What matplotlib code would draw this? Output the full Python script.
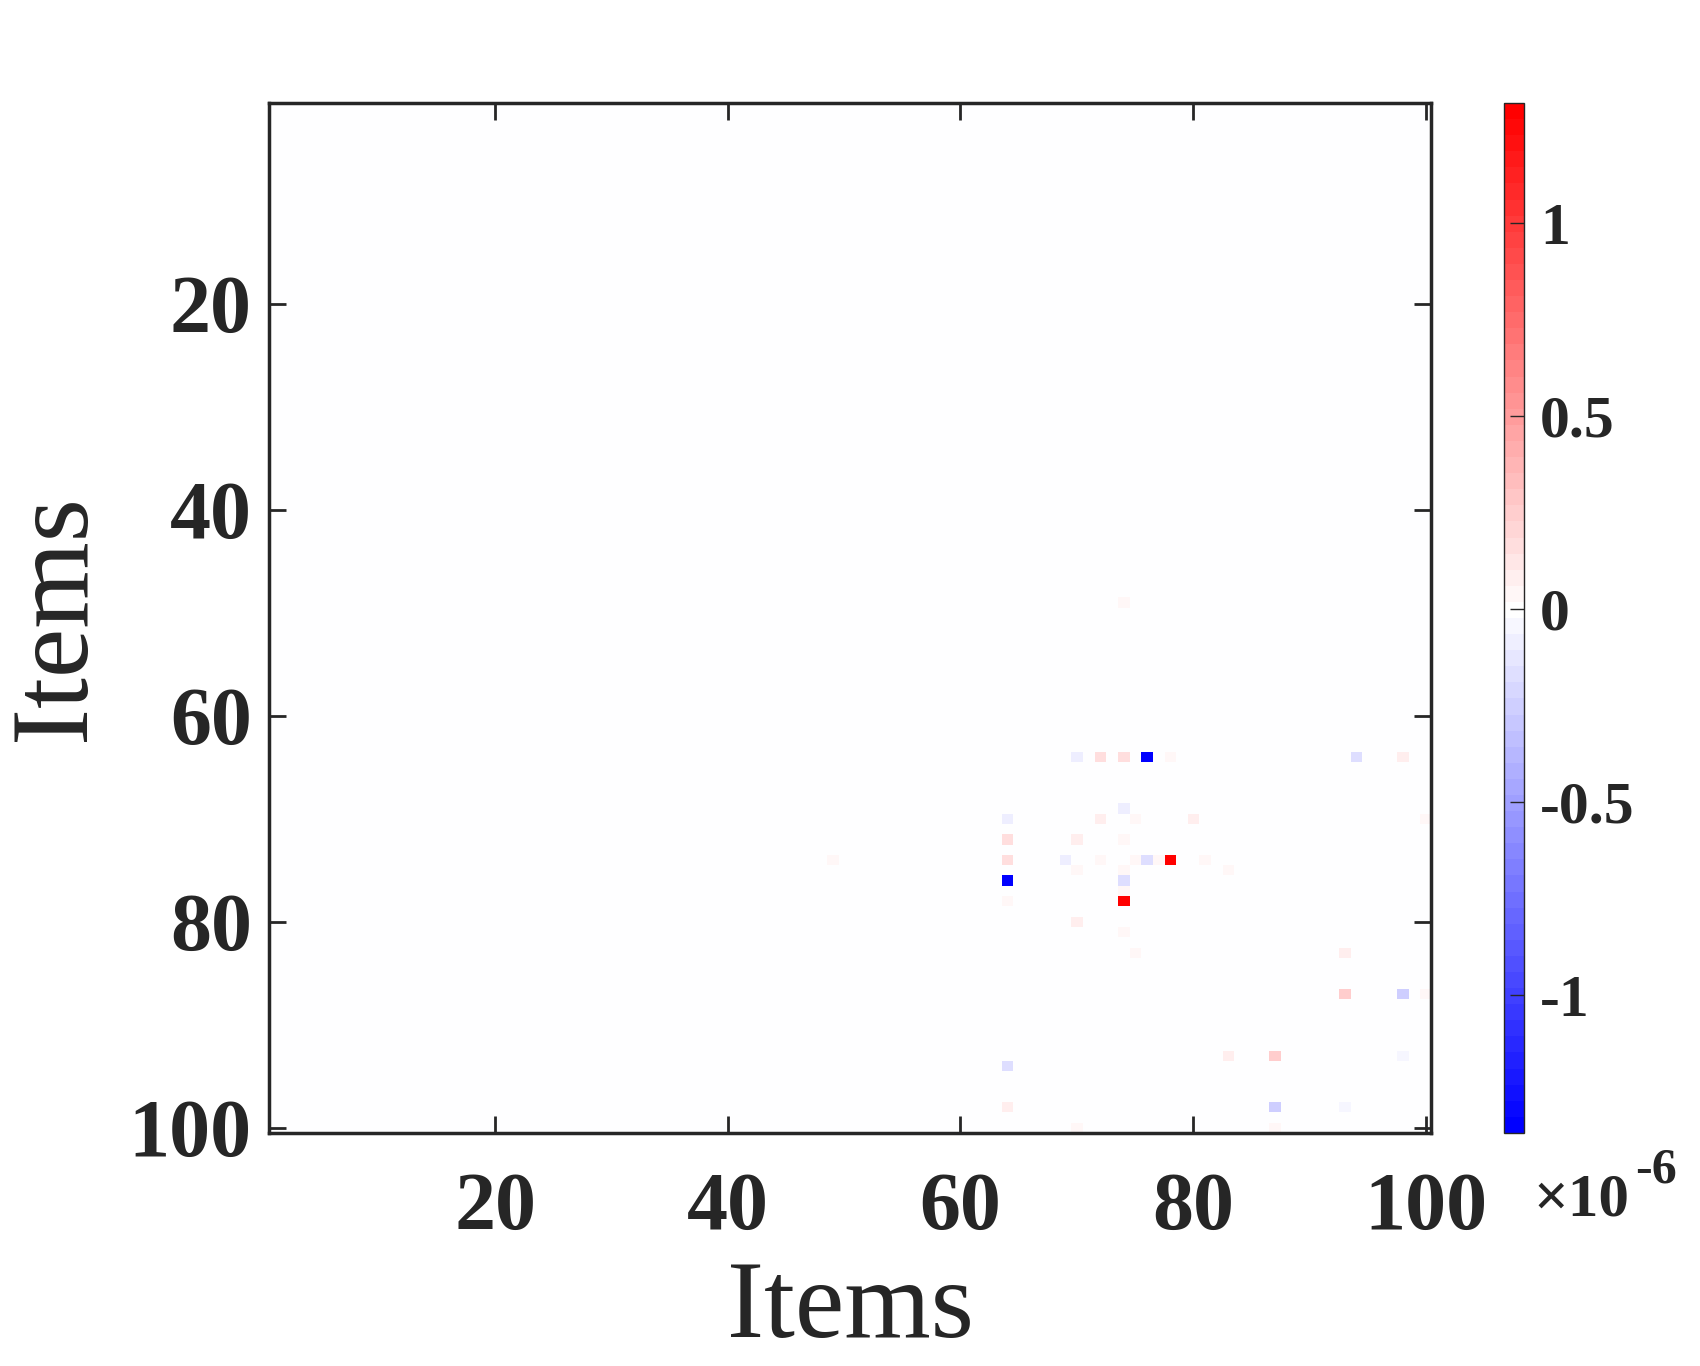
import numpy as np
import matplotlib
matplotlib.use("Agg")
import matplotlib.pyplot as plt
from matplotlib.colors import LinearSegmentedColormap, Normalize

plt.rcParams['font.family'] = ['Liberation Serif', 'DejaVu Serif']
plt.rcParams['font.weight'] = 'bold'

# nonzero entries of the (symmetric) 100x100 matrix, upper triangle, values in 1e-6
rows = [64, 64, 64, 64, 64, 64, 64, 49, 69, 70, 70, 70, 70, 72, 74, 74, 74, 74, 74,
        75, 83, 87, 87, 87, 93]
cols = [70, 72, 74, 76, 78, 94, 98, 74, 74, 72, 75, 80, 100, 74, 75, 76, 77, 78, 81,
        83, 93, 93, 98, 100, 98]
vals = [-0.10, 0.16, 0.16, -1.357, 0.05, -0.17, 0.10, 0.04, -0.10, 0.08, 0.04, 0.08, 0.04,
        0.05, 0.05, -0.15, 0.05, 1.312, 0.06, 0.06, 0.08, 0.24, -0.25, 0.04, -0.06]

n_items = 100
tick_vals = [20, 40, 60, 80, 100]
cbar_ticks = [-1, -0.5, 0, 0.5, 1]
cbar_labels = ['-1', '-0.5', '0', '0.5', '1']

M = np.zeros((n_items, n_items))
for r, c, v in zip(rows, cols, vals):
    M[r - 1, c - 1] = v * 1e-6
    M[c - 1, r - 1] = v * 1e-6

vmin, vmax = M.min(), M.max()
f0 = -vmin / (vmax - vmin)  # where zero sits -> white
cmap = LinearSegmentedColormap.from_list(
    'bwr', [(0, '#0000ff'), (f0, '#ffffff'), (1, '#ff0000')], N=64)
norm = Normalize(vmin=vmin, vmax=vmax)

fig = plt.figure(figsize=(17, 13.66), dpi=100)
ax = fig.add_axes([0.158, 0.1706, 0.684, 0.754])
im = ax.imshow(M, cmap=cmap, norm=norm, interpolation='nearest', aspect='auto',
               extent=(0.5, n_items + 0.5, n_items + 0.5, 0.5))

dark = '#262626'
ax.set_xticks(tick_vals)
ax.set_yticks(tick_vals)
ax.tick_params(direction='in', length=12, width=2, colors=dark, top=True, right=True,
               labelsize=59)
ax.tick_params(axis='x', pad=28)
ax.tick_params(axis='y', pad=12)
for s in ax.spines.values():
    s.set_linewidth(2.5)
    s.set_color(dark)
ax.set_xlabel('Items', fontsize=80, color=dark, labelpad=10)
ax.set_ylabel('Items', fontsize=80, color=dark, labelpad=16)

cax = fig.add_axes([0.8847, 0.1706, 0.0115, 0.754])
cb = fig.colorbar(im, cax=cax)
cb.set_ticks([t * 1e-6 for t in cbar_ticks])
cb.set_ticklabels(cbar_labels)
cb.ax.tick_params(direction='in', length=10, width=1, colors=dark, labelsize=43, pad=12)
cb.outline.set_linewidth(1)
cb.outline.set_edgecolor(dark)

fig.text(0.902, 0.121, '\u00d710', fontsize=44, color=dark, ha='left', va='center')
fig.text(0.962, 0.143, '-6', fontsize=36, color=dark, ha='left', va='center')

fig.savefig('out.png', dpi=100)
